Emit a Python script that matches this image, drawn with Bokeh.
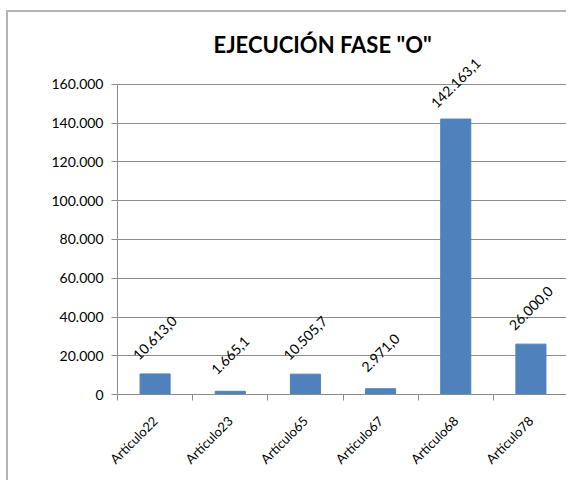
from math import pi
from bokeh.plotting import figure
from bokeh.models import Range1d, FixedTicker, ColumnDataSource, LabelSet, Label
from bokeh.core.properties import value
from bokeh.embed import file_html
from bokeh.resources import INLINE

categories = ["Artículo22", "Artículo23", "Artículo65", "Artículo67", "Artículo68", "Artículo78"]
values = [10613.0, 1665.1, 10505.7, 2971.0, 142163.1, 26000.0]
value_labels = ["10.613,0", "1.665,1", "10.505,7", "2.971,0", "142.163,1", "26.000,0"]
y_ticks = [0, 20000, 40000, 60000, 80000, 100000, 120000, 140000, 160000]
y_tick_labels = ["0", "20.000", "40.000", "60.000", "80.000", "100.000", "120.000", "140.000", "160.000"]
title_text = 'EJECUCIÓN FASE "O"'

FONT = "Lato"
GRAY = "#8c8c8c"
Y_AXIS_MAX = 160000
Y_VIEW_TOP = 196129  # extra headroom above the axis so title and labels are not clipped

xs = [i + 0.5 for i in range(len(categories))]
src = ColumnDataSource(dict(x=xs, top=values, lab=value_labels))

p = figure(width=560, height=470, output_backend="svg", toolbar_location=None,
           x_range=Range1d(0, len(categories)), y_range=Range1d(0, Y_VIEW_TOP),
           min_border_left=109, min_border_right=0, min_border_top=2, min_border_bottom=88,
           border_fill_color="white",
           styles={"border-left": "2px solid #b4b4b4", "border-top": "2px solid #b4b4b4",
                   "margin-left": "6px", "margin-top": "10px"})
p.outline_line_color = None
p.background_fill_color = "white"

p.add_layout(Label(x=96, y=350, x_units="screen", y_units="screen", text=title_text,
                   text_font=FONT, text_font_size="22px", text_font_style="bold",
                   text_color="black", text_baseline="alphabetic", text_align="left"))

p.vbar(x="x", top="top", width=0.4, source=src, fill_color="#4F81BD", line_color="#4F81BD")
p.add_layout(LabelSet(x="x", y="top", text="lab", source=src, angle=pi / 4, text_align="center",
                      text_baseline="middle", y_offset=36, text_font=value(FONT),
                      text_font_size=value("14px"), text_color=value("black")))

# y axis
p.yaxis.ticker = FixedTicker(ticks=y_ticks)
p.yaxis.bounds = (0, Y_AXIS_MAX)
p.yaxis.major_label_overrides = {t: l for t, l in zip(y_ticks, y_tick_labels)}
p.yaxis.major_label_text_font = FONT
p.yaxis.major_label_text_font_size = "14px"
p.yaxis.major_label_text_color = "black"
p.yaxis.axis_line_color = GRAY
p.yaxis.major_tick_line_color = GRAY
p.yaxis.major_tick_in = 0
p.yaxis.major_tick_out = 6
p.yaxis.minor_tick_line_color = None
p.yaxis.major_label_standoff = 8

# x axis
p.xaxis.ticker = FixedTicker(ticks=xs, minor_ticks=list(range(len(categories) + 1)))
p.xaxis.major_label_overrides = {x: c for x, c in zip(xs, categories)}
p.xaxis.major_label_orientation = pi / 4
p.xaxis.major_label_text_font = FONT
p.xaxis.major_label_text_font_size = "13px"
p.xaxis.major_label_text_color = "black"
p.xaxis.axis_line_color = GRAY
p.xaxis.major_tick_line_color = None
p.xaxis.major_tick_in = 0
p.xaxis.major_tick_out = 0
p.xaxis.minor_tick_line_color = GRAY
p.xaxis.minor_tick_in = 0
p.xaxis.minor_tick_out = 6
p.xaxis.major_label_standoff = 18

p.xgrid.grid_line_color = None
p.ygrid.ticker = FixedTicker(ticks=y_ticks)
p.ygrid.grid_line_color = GRAY

open("out.html", "w").write(file_html(p, INLINE))
